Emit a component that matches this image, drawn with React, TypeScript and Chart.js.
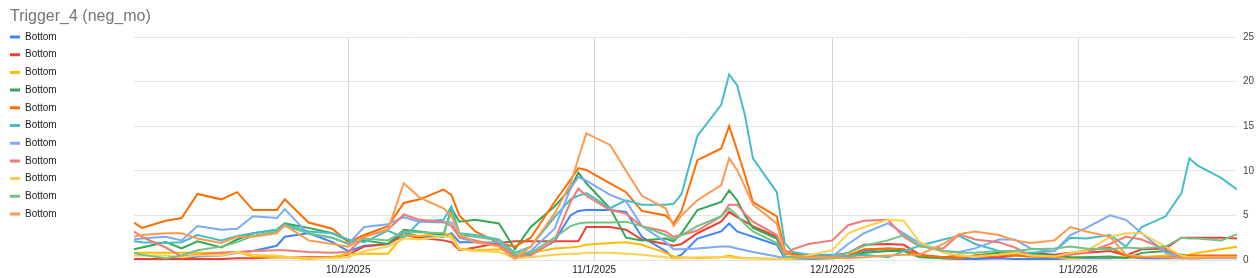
import React, { useEffect, useRef } from 'react';
import { Chart, registerables } from 'chart.js';

Chart.register(...registerables);

const chartTitle = 'Trigger_4 (neg_mo)';
const seriesNames = ['Bottom', 'Bottom', 'Bottom', 'Bottom', 'Bottom', 'Bottom', 'Bottom', 'Bottom', 'Bottom', 'Bottom', 'Bottom'];
const seriesColors = ['#4285F4', '#EA4335', '#FBBC04', '#34A853', '#FF6D01', '#46BDC6', '#7BAAF7', '#F07B72', '#FCD04F', '#71C287', '#FF994D'];

const axisStart = '2025-09-04';
const axisEnd = '2026-01-21';
const tickDates = ['2025-10-01', '2025-11-01', '2025-12-01', '2026-01-01'];
const tickLabels = ['10/1/2025', '11/1/2025', '12/1/2025', '1/1/2026'];
const yTickValues = [0, 5, 10, 15, 20, 25];

const dates = [
  '2025-09-04', '2025-09-05', '2025-09-08', '2025-09-10', '2025-09-12', '2025-09-15', '2025-09-17', '2025-09-19', '2025-09-22', '2025-09-23', '2025-09-26', '2025-09-29',
  '2025-10-01', '2025-10-03', '2025-10-06', '2025-10-08', '2025-10-10', '2025-10-13', '2025-10-14', '2025-10-15', '2025-10-17', '2025-10-20', '2025-10-22', '2025-10-24', '2025-10-27', '2025-10-29', '2025-10-30', '2025-10-31',
  '2025-11-03', '2025-11-05', '2025-11-07', '2025-11-10', '2025-11-11', '2025-11-12', '2025-11-14', '2025-11-17', '2025-11-18', '2025-11-19', '2025-11-20', '2025-11-21', '2025-11-24', '2025-11-25', '2025-11-26', '2025-11-28',
  '2025-12-01', '2025-12-03', '2025-12-05', '2025-12-08', '2025-12-10', '2025-12-12', '2025-12-15', '2025-12-17', '2025-12-19', '2025-12-22', '2025-12-24', '2025-12-26', '2025-12-29', '2025-12-31',
  '2026-01-02', '2026-01-05', '2026-01-07', '2026-01-09', '2026-01-12', '2026-01-14', '2026-01-15', '2026-01-16', '2026-01-19', '2026-01-21',
];

const bottom1 = [
  0.1, 0.1, 0.1, 0.2, 0.4, 0.5, 0.8, 1.0, 1.6, 2.6, 3.0, 2.0,
  1.0, 1.6, 1.8, 3.1, 2.6, 2.6, 3.0, 2.0, 2.0, 1.8, 0.5, 0.6, 2.1, 5.0, 5.5, 5.6,
  5.6, 5.4, 2.6, 1.0, 0.2, 0.6, 2.4, 3.2, 4.1, 3.2, 2.9, 2.6, 1.7, 0.2, 0.2, 0.1,
  0.2, 0.3, 1.0, 1.3, 1.2, 0.5, 0.2, 0.1, 0.1, 0.2, 0.1, 0.1, 0.1, 0.2,
  0.2, 0.2, 0.3, 0.2, 0.2, 0.2, 0.2, 0.2, 0.3, 0.5,
];
const bottom2 = [
  0.1, 0.1, 0.1, 0.1, 0.1, 0.1, 0.2, 0.2, 0.3, 0.3, 0.3, 0.3,
  0.6, 1.5, 1.8, 2.8, 2.5, 2.2, 2.0, 1.1, 1.4, 1.9, 2.1, 2.1, 2.1, 2.1, 2.1, 3.7,
  3.7, 3.4, 2.3, 1.8, 1.6, 1.8, 3.0, 4.3, 5.4, 4.8, 4.3, 3.8, 2.6, 0.7, 0.7, 0.6,
  0.5, 0.8, 1.7, 1.8, 1.7, 0.6, 0.3, 0.5, 0.4, 0.3, 0.5, 0.8, 0.6, 0.8,
  0.8, 1.0, 0.5, 1.2, 1.3, 2.5, 2.5, 2.5, 2.5, 2.4,
];
const bottom3 = [
  0.8, 0.8, 0.8, 0.8, 0.8, 0.8, 0.9, 0.4, 0.3, 0.3, 0.1, 0.3,
  0.7, 0.7, 0.7, 2.8, 2.7, 3.0, 2.8, 1.3, 1.1, 1.2, 0.9, 0.8, 1.3, 1.4, 1.5, 1.7,
  1.9, 2.0, 1.7, 0.8, 0.4, 0.3, 0.2, 0.3, 0.5, 0.3, 0.2, 0.2, 0.1, 0.0, 0.1, 0.2,
  0.2, 0.3, 0.8, 1.0, 1.0, 0.4, 0.2, 0.3, 0.5, 0.6, 0.5, 0.4, 0.3, 0.2,
  0.3, 0.3, 0.3, 0.3, 0.5, 0.5, 0.6, 0.8, 1.2, 1.5,
];
const bottom4 = [
  1.2, 1.4, 2.0, 1.3, 2.1, 1.4, 2.3, 3.0, 3.4, 4.1, 3.6, 3.0,
  2.2, 2.2, 1.8, 3.4, 3.2, 2.8, 5.8, 4.3, 4.5, 4.1, 1.2, 3.7, 6.0, 8.0, 9.8, 8.6,
  5.8, 2.5, 2.2, 2.4, 2.1, 3.0, 5.6, 6.5, 7.8, 6.7, 5.0, 3.6, 2.4, 0.4, 0.3, 0.3,
  0.3, 0.3, 0.8, 1.0, 1.0, 0.3, 0.2, 0.2, 0.5, 0.8, 0.8, 0.7, 0.5, 0.3,
  0.3, 0.4, 0.2, 0.8, 1.0, 0.6, 0.4, 0.3, 0.3, 0.3,
];
const bottom5 = [
  4.2, 3.6, 4.4, 4.7, 7.4, 6.8, 7.6, 5.6, 5.6, 6.8, 4.2, 3.5,
  2.0, 2.8, 3.8, 6.4, 6.8, 7.9, 7.3, 5.0, 3.2, 1.9, 1.5, 2.5, 6.5, 9.0, 10.3, 10.1,
  8.6, 7.6, 5.5, 5.0, 4.1, 5.5, 11.2, 12.5, 15.0, 12.3, 9.5, 6.5, 4.9, 1.1, 0.6, 0.4,
  0.3, 0.5, 1.2, 1.3, 1.2, 0.5, 0.3, 0.2, 0.5, 0.6, 0.5, 0.4, 0.3, 0.7,
  1.1, 1.4, 0.5, 0.3, 0.3, 0.4, 0.5, 0.5, 0.5, 0.5,
];
const bottom6 = [
  2.1, 2.0, 1.9, 2.0, 2.8, 2.2, 2.7, 3.0, 3.4, 4.0, 3.2, 3.0,
  2.3, 2.0, 3.3, 2.5, 4.3, 4.5, 6.0, 3.0, 2.8, 2.3, 0.8, 1.5, 4.8, 6.8, 7.2, 7.5,
  5.8, 6.7, 6.2, 6.2, 6.3, 7.4, 13.9, 17.4, 20.8, 19.6, 16.2, 11.4, 7.6, 1.9, 0.9, 0.6,
  0.6, 0.4, 0.6, 0.3, 1.0, 1.6, 2.3, 2.7, 1.8, 1.0, 0.8, 0.8, 1.0, 2.5,
  2.4, 2.8, 1.5, 3.7, 4.9, 7.5, 11.4, 10.6, 9.2, 7.9,
];
const bottom7 = [
  2.3, 2.4, 2.6, 2.2, 3.8, 3.4, 3.5, 4.9, 4.7, 5.7, 2.9, 2.5,
  1.8, 3.7, 4.0, 4.8, 4.3, 4.2, 4.2, 2.5, 2.0, 2.0, 0.3, 1.0, 3.5, 8.0, 9.3, 8.9,
  7.3, 6.6, 3.8, 2.0, 1.2, 1.2, 1.3, 1.5, 1.5, 1.3, 1.1, 0.9, 0.4, 0.2, 0.2, 0.2,
  0.4, 1.8, 3.0, 4.1, 3.0, 1.9, 1.0, 0.9, 1.3, 2.3, 2.3, 1.3, 1.0, 2.8,
  3.6, 5.0, 4.5, 3.0, 0.8, 0.3, 0.2, 0.2, 0.2, 0.2,
];
const bottom8 = [
  3.2, 2.6, 1.4, 0.4, 0.6, 0.8, 0.9, 1.0, 1.1, 1.1, 0.9, 0.8,
  0.9, 2.6, 3.4, 5.1, 4.5, 4.3, 3.8, 2.6, 2.2, 1.6, 0.4, 0.5, 2.2, 6.5, 8.0, 7.2,
  5.6, 5.2, 3.8, 3.2, 2.6, 2.8, 3.3, 4.9, 6.2, 6.2, 5.2, 4.3, 2.8, 0.6, 1.2, 1.8,
  2.2, 3.9, 4.4, 4.5, 2.6, 1.5, 1.3, 2.9, 2.3, 2.0, 1.4, 0.5, 0.4, 0.6,
  0.8, 1.8, 2.6, 2.3, 1.2, 0.4, 0.3, 0.3, 0.3, 0.3,
];
const bottom9 = [
  0.5, 0.5, 0.5, 0.3, 0.5, 0.5, 0.9, 0.6, 0.5, 0.4, 0.2, 0.2,
  0.3, 1.0, 1.5, 2.4, 2.3, 2.7, 2.5, 1.2, 1.0, 0.9, 0.2, 0.3, 0.6, 0.7, 0.7, 0.8,
  0.8, 0.7, 0.6, 0.3, 0.2, 0.2, 0.3, 0.3, 0.3, 0.2, 0.2, 0.2, 0.1, 0.1, 0.2, 0.5,
  1.1, 3.0, 3.7, 4.5, 4.4, 2.0, 0.8, 0.5, 0.4, 0.6, 0.8, 0.5, 0.4, 0.8,
  1.0, 2.6, 3.0, 3.0, 1.5, 0.5, 0.3, 0.3, 0.3, 0.3,
];
const bottom10 = [
  0.8, 0.6, 0.2, 0.5, 1.1, 1.5, 2.0, 2.7, 3.2, 3.8, 3.0, 2.5,
  1.8, 2.4, 2.2, 3.2, 3.1, 3.0, 5.4, 2.8, 2.6, 2.2, 0.6, 0.8, 2.5, 3.8, 4.1, 4.2,
  4.2, 4.3, 3.8, 2.8, 2.3, 2.8, 3.8, 4.9, 5.8, 5.0, 4.0, 3.2, 1.9, 0.4, 0.3, 0.2,
  0.3, 0.8, 1.6, 2.2, 2.8, 1.6, 1.0, 0.8, 0.8, 1.0, 1.0, 1.2, 1.3, 1.5,
  1.3, 1.2, 1.4, 1.3, 1.5, 2.5, 2.4, 2.4, 2.2, 2.9,
];
const bottom11 = [
  2.6, 2.8, 3.0, 3.0, 2.4, 1.9, 2.6, 2.6, 3.0, 3.9, 2.2, 1.8,
  1.5, 2.6, 3.4, 8.6, 7.0, 5.8, 5.0, 2.8, 2.0, 1.5, 0.1, 1.5, 5.2, 8.5, 11.4, 14.2,
  12.9, 10.0, 7.2, 5.8, 3.8, 5.0, 6.7, 8.4, 11.4, 10.1, 8.2, 6.2, 4.1, 0.9, 0.5, 0.3,
  0.3, 0.2, 0.3, 0.5, 0.6, 0.6, 1.8, 2.9, 3.2, 2.8, 2.2, 1.9, 2.2, 3.7,
  3.2, 2.6, 0.6, 0.4, 0.3, 0.2, 0.2, 0.2, 0.3, 0.3,
];

const seriesValues = [bottom1, bottom2, bottom3, bottom4, bottom5, bottom6, bottom7, bottom8, bottom9, bottom10, bottom11];

const FONT = 'Arial, "Liberation Sans", sans-serif';

const dayNumber = (iso: string) => {
  const [y, m, d] = iso.split('-').map(Number);
  return Date.UTC(y, m - 1, d) / 86400000;
};
const base = dayNumber(axisStart);
const dayOffset = (iso: string) => dayNumber(iso) - base;
const tickOffsets = tickDates.map(dayOffset);

const titlePlugin = {
  id: 'cornerTitle',
  afterDraw(chart: any) {
    const ctx = chart.ctx;
    ctx.save();
    ctx.font = `16px ${FONT}`;
    ctx.fillStyle = '#757575';
    ctx.textAlign = 'left';
    ctx.textBaseline = 'alphabetic';
    ctx.fillText(chartTitle, 10, 20.5);
    ctx.restore();
  },
};

export default function App() {
  const canvasRef = useRef<HTMLCanvasElement | null>(null);

  useEffect(() => {
    document.body.style.margin = '0';
    const canvas = canvasRef.current;
    if (!canvas) return;
    const n = seriesValues.length;
    const datasets = seriesValues.map((vals, i) => ({
      label: seriesNames[i],
      data: dates.map((d, j) => ({ x: dayOffset(d), y: vals[j] })),
      borderColor: seriesColors[i],
      backgroundColor: seriesColors[i],
      borderWidth: 2,
      pointRadius: 0,
      pointHoverRadius: 0,
      tension: 0,
      fill: false,
      order: n - i,
      xAxisID: 'x',
      yAxisID: 'y',
    }));

    const chart = new Chart(canvas, {
      type: 'line',
      data: { datasets },
      plugins: [titlePlugin],
      options: {
        responsive: false,
        animation: false,
        devicePixelRatio: 1,
        layout: { padding: { top: 24.3, left: 2.3, right: 0, bottom: 0 } },
        plugins: {
          title: { display: false },
          tooltip: { enabled: false },
          legend: {
            position: 'left',
            align: 'start',
            labels: {
              boxWidth: 10,
              boxHeight: 3,
              padding: 7.7,
              color: '#222',
              font: { family: FONT, size: 10 },
              generateLabels: (c: any) =>
                c.data.datasets.map((ds: any, i: number) => ({
                  text: ds.label,
                  fillStyle: ds.borderColor,
                  strokeStyle: ds.borderColor,
                  lineWidth: 0,
                  hidden: false,
                  datasetIndex: i,
                  fontColor: '#222',
                })),
            },
          },
        },
        scales: {
          x: {
            type: 'linear',
            position: 'bottom',
            min: 0,
            max: dayOffset(axisEnd),
            afterBuildTicks: (s: any) => {
              s.ticks = tickOffsets.map((v) => ({ value: v }));
            },
            afterFit: (s: any) => {
              s.height = 18;
            },
            ticks: {
              autoSkip: false,
              maxRotation: 0,
              padding: 4,
              color: '#222',
              font: { family: FONT, size: 10 },
              callback: (v: any) => {
                const k = tickOffsets.indexOf(Number(v));
                return k >= 0 ? tickLabels[k] : '';
              },
            },
            grid: { color: '#d6d6d6', drawTicks: false },
            border: { display: false },
          },
          y: {
            type: 'linear',
            position: 'right',
            min: 0,
            max: 25,
            afterBuildTicks: (s: any) => {
              s.ticks = yTickValues.map((v) => ({ value: v }));
            },
            afterFit: (s: any) => {
              s.width = 22;
            },
            ticks: { padding: 6, color: '#444', font: { family: FONT, size: 10 } },
            grid: { color: '#e4e4e4', drawTicks: false },
            border: { display: false },
          },
          padLeft: {
            type: 'linear',
            position: 'left',
            grid: { display: false },
            ticks: { display: false },
            border: { display: false },
            afterFit: (s: any) => {
              const lw = s.chart.legend ? s.chart.legend.width : 0;
              s.width = Math.max(0, 134 - 2.3 - lw);
            },
          },
          padTop: {
            type: 'linear',
            position: 'top',
            grid: { display: false },
            ticks: { display: false },
            border: { display: false },
            afterFit: (s: any) => {
              s.height = 12.7;
            },
          },
        },
      } as any,
    });
    return () => chart.destroy();
  }, []);

  return (
    <div style={{ width: 1259, height: 278, position: 'relative' }}>
      <canvas ref={canvasRef} width={1259} height={278} style={{ display: 'block' }} />
    </div>
  );
}
